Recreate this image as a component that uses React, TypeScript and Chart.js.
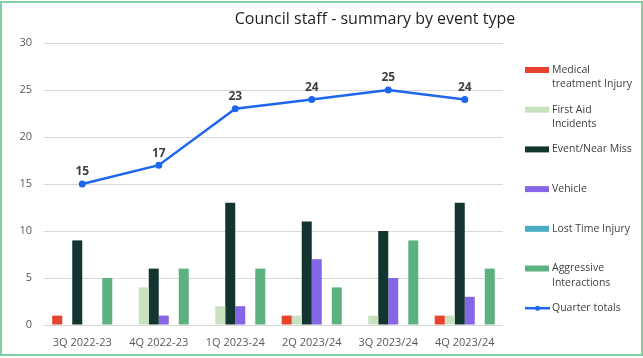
import React, { useEffect, useRef } from "react";
import { Chart, registerables } from "chart.js";

Chart.register(...registerables);

const categories = ["3Q 2022-23", "4Q 2022-23", "1Q 2023-24", "2Q 2023/24", "3Q 2023/24", "4Q 2023/24"];
const medicalTreatment = [1, 0, 0, 1, 0, 1];
const firstAid = [0, 4, 2, 1, 1, 1];
const eventNearMiss = [9, 6, 13, 11, 10, 13];
const vehicle = [0, 1, 2, 7, 5, 3];
const lostTime = [0, 0, 0, 0, 0, 0];
const aggressive = [5, 6, 6, 4, 9, 6];
const quarterTotals = [15, 17, 23, 24, 25, 24];
const yMin = 0;
const yMax = 30;
const yStep = 5;
const titleText = "Council staff - summary by event type";

const seriesLabels = [
  ["Medical", "treatment Injury"],
  ["First Aid", "Incidents"],
  ["Event/Near Miss"],
  ["Vehicle"],
  ["Lost Time Injury"],
  ["Aggressive", "Interactions"],
  ["Quarter totals"],
];
const seriesColors = ["#E8432E", "#C8E2C0", "#12352F", "#8565E8", "#4BACC6", "#5BB280", "#1F66EE"];

const FONT = "'Open Sans', 'Noto Sans', sans-serif";

const overlayPlugin = {
  id: "overlay",
  afterDatasetsDraw(chart: any) {
    const ctx = chart.ctx;
    const idx = chart.data.datasets.findIndex((d: any) => d.type === "line");
    if (idx < 0) return;
    const meta = chart.getDatasetMeta(idx);
    ctx.save();
    ctx.font = `bold 12px ${FONT}`;
    ctx.fillStyle = "#404040";
    ctx.textAlign = "center";
    ctx.textBaseline = "middle";
    meta.data.forEach((pt: any, i: number) => {
      ctx.fillText(String(chart.data.datasets[idx].data[i]), pt.x, pt.y - 12);
    });
    ctx.restore();
  },
  afterDraw(chart: any) {
    const ctx = chart.ctx;
    const area = chart.chartArea;
    ctx.save();
    // title
    ctx.font = `16px ${FONT}`;
    ctx.fillStyle = "#1F1F1F";
    ctx.textAlign = "center";
    ctx.textBaseline = "middle";
    ctx.fillText(titleText, area.right - 128, 19);

    // legend
    const boxX = area.right + 22;
    const textX = boxX + 27;
    const startY = 70;
    const gap = 39.7;
    ctx.font = `10.5px ${FONT}`;
    ctx.textAlign = "left";
    seriesLabels.forEach((lines, i) => {
      const y = startY + gap * i;
      const color = seriesColors[i];
      if (i === seriesLabels.length - 1) {
        ctx.strokeStyle = color;
        ctx.lineWidth = 2.5;
        ctx.beginPath();
        ctx.moveTo(boxX, y);
        ctx.lineTo(boxX + 25, y);
        ctx.stroke();
        ctx.fillStyle = color;
        ctx.beginPath();
        ctx.arc(boxX + 12.5, y, 2.5, 0, Math.PI * 2);
        ctx.fill();
      } else {
        ctx.fillStyle = color;
        ctx.fillRect(boxX, y - 3, 24, 6);
      }
      ctx.fillStyle = "#404040";
      lines.forEach((t, j) => ctx.fillText(t, textX, y + j * 14.5));
    });
    ctx.restore();
  },
};

export default function App() {
  const canvasRef = useRef<HTMLCanvasElement | null>(null);

  useEffect(() => {
    if (!canvasRef.current) return;
    const barData = [medicalTreatment, firstAid, eventNearMiss, vehicle, lostTime, aggressive];
    const datasets: any[] = [
      {
        type: "line",
        label: seriesLabels[6].join(" "),
        data: quarterTotals,
        borderColor: seriesColors[6],
        backgroundColor: seriesColors[6],
        borderWidth: 2.5,
        pointRadius: 3.5,
        pointBackgroundColor: seriesColors[6],
        pointBorderWidth: 0,
        tension: 0,
        order: 0,
      },
      ...barData.map((d, i) => ({
        type: "bar",
        label: seriesLabels[i].join(" "),
        data: d,
        backgroundColor: seriesColors[i],
        borderWidth: 0,
        categoryPercentage: 0.785,
        barPercentage: 1,
        order: 1,
      })),
    ];

    const chart = new Chart(canvasRef.current, {
      type: "bar",
      data: { labels: categories, datasets },
      options: {
        animation: false,
        responsive: true,
        maintainAspectRatio: false,
        layout: { padding: { top: 43, right: 140, left: 0, bottom: 0 } },
        plugins: {
          legend: { display: false },
          title: { display: false },
          tooltip: { enabled: false },
        },
        scales: {
          x: {
            grid: { display: false, drawTicks: false },
            border: { display: false },
            ticks: { color: "#595959", font: { size: 11, family: FONT }, padding: 11, maxRotation: 0 },
            afterFit(scale: any) {
              scale.height = 33;
            },
          },
          y: {
            min: yMin,
            max: yMax,
            ticks: { stepSize: yStep, color: "#595959", font: { size: 11, family: FONT }, padding: 12 },
            grid: { color: "#D9D9D9", lineWidth: 1, drawTicks: false },
            border: { display: false },
            afterFit(scale: any) {
              scale.width = 44;
            },
          },
        },
      },
      plugins: [overlayPlugin],
    } as any);
    return () => chart.destroy();
  }, []);

  return (
    <div style={{ position: "fixed", left: 0, top: 0, width: 643, height: 358, background: "#fff" }}>
      <div style={{ position: "absolute", left: 0, top: 0, width: 643, height: 358 }}>
        <canvas ref={canvasRef} />
      </div>
      <div
        style={{
          position: "absolute",
          left: 0,
          top: 1,
          width: 643,
          height: 355,
          border: "2px solid #82CFA3",
          boxSizing: "border-box",
          pointerEvents: "none",
        }}
      />
    </div>
  );
}
